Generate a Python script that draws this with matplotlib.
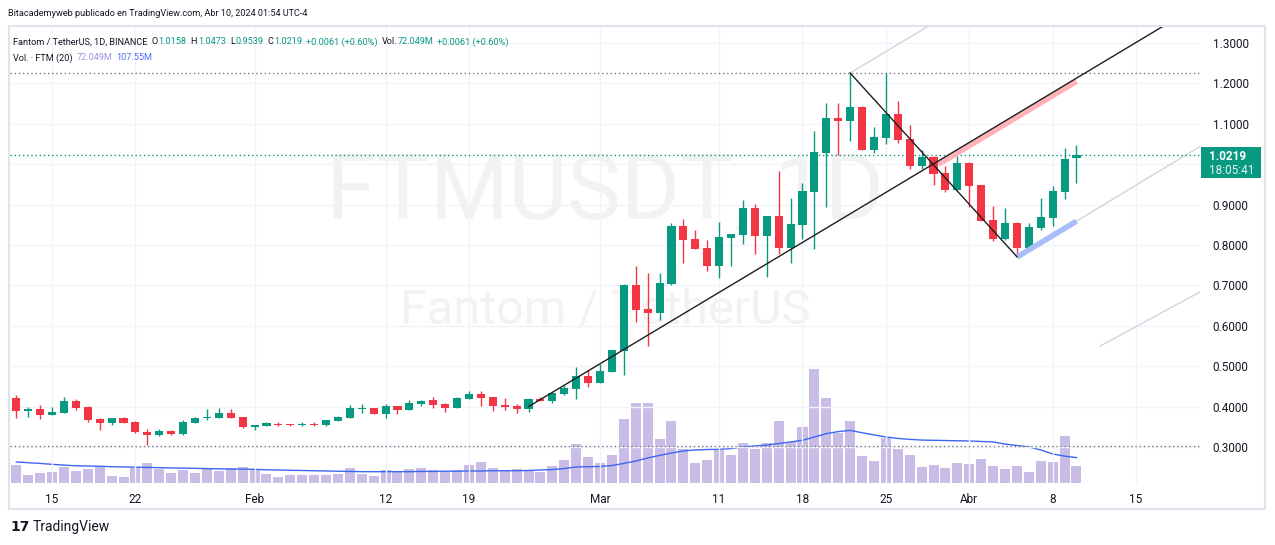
import numpy as np
import pandas as pd
import matplotlib
matplotlib.use("Agg")
import matplotlib.pyplot as plt
import matplotlib.dates as mdates
from matplotlib.patches import Rectangle
from matplotlib import font_manager

# a narrow face is closer to the snapshot's UI font, fall back to Roboto
_names = {f.name for f in font_manager.fontManager.ttflist}
if 'Liberation Sans Narrow' in _names:
    UI_FONT, UI_SIZE = ['Liberation Sans Narrow', 'DejaVu Sans'], 7.8
else:
    UI_FONT, UI_SIZE = ['Roboto', 'DejaVu Sans'], 6.6
plt.rcParams['font.family'] = ['Roboto', 'DejaVu Sans']

# daily candles FTM/USDT, 12 Jan -> 10 Apr 2024
dates = pd.date_range("2024-01-12", "2024-04-10", freq="D")

opens = [0.421, 0.390, 0.394, 0.380, 0.385, 0.414, 0.399, 0.370, 0.360, 0.372,
         0.362, 0.337, 0.330, 0.339, 0.333, 0.360, 0.372, 0.372, 0.384, 0.374,
         0.350, 0.353, 0.358, 0.357, 0.354, 0.357, 0.354, 0.365, 0.372, 0.394,
         0.396, 0.383, 0.401, 0.392, 0.406, 0.416, 0.406, 0.397, 0.419, 0.431,
         0.424, 0.404, 0.401, 0.395, 0.419, 0.415, 0.431, 0.444, 0.476, 0.459,
         0.486, 0.538, 0.701, 0.642, 0.631, 0.703, 0.847, 0.815, 0.793, 0.748,
         0.818, 0.825, 0.892, 0.822, 0.872, 0.793, 0.850, 0.932, 1.028, 1.114,
         1.108, 1.142, 1.036, 1.066, 1.124, 1.062, 0.996, 1.019, 0.978, 0.937,
         1.004, 0.948, 0.863, 0.816, 0.855, 0.793, 0.843, 0.868, 0.932, 1.0158]
highs = [0.429, 0.399, 0.404, 0.399, 0.424, 0.419, 0.402, 0.373, 0.373, 0.375,
         0.364, 0.345, 0.345, 0.342, 0.368, 0.374, 0.394, 0.397, 0.394, 0.375,
         0.355, 0.361, 0.363, 0.358, 0.363, 0.361, 0.368, 0.378, 0.404, 0.406,
         0.397, 0.406, 0.402, 0.416, 0.416, 0.424, 0.408, 0.424, 0.439, 0.439,
         0.425, 0.421, 0.406, 0.421, 0.424, 0.436, 0.453, 0.498, 0.491, 0.505,
         0.541, 0.704, 0.748, 0.731, 0.731, 0.854, 0.864, 0.837, 0.812, 0.857,
         0.828, 0.911, 0.901, 0.873, 0.984, 0.916, 0.953, 1.083, 1.151, 1.151,
         1.2257, 1.145, 1.092, 1.2257, 1.156, 1.098, 1.036, 1.020, 0.996, 1.021,
         1.005, 0.949, 0.897, 0.892, 0.856, 0.855, 0.917, 0.947, 1.041, 1.0473]
lows = [0.373, 0.375, 0.370, 0.379, 0.384, 0.392, 0.363, 0.343, 0.355, 0.359,
        0.334, 0.305, 0.328, 0.331, 0.331, 0.359, 0.368, 0.371, 0.372, 0.348,
        0.343, 0.352, 0.353, 0.352, 0.352, 0.352, 0.353, 0.364, 0.371, 0.385,
        0.382, 0.373, 0.383, 0.391, 0.401, 0.396, 0.387, 0.396, 0.418, 0.401,
        0.390, 0.392, 0.385, 0.387, 0.414, 0.410, 0.429, 0.420, 0.449, 0.458,
        0.485, 0.478, 0.610, 0.551, 0.615, 0.701, 0.756, 0.790, 0.736, 0.719,
        0.748, 0.802, 0.778, 0.722, 0.778, 0.756, 0.815, 0.791, 0.895, 1.024,
        1.058, 1.036, 1.028, 1.051, 1.053, 0.988, 0.988, 0.949, 0.932, 0.936,
        0.895, 0.859, 0.811, 0.812, 0.771, 0.792, 0.838, 0.848, 0.915, 0.9539]
closes = [0.390, 0.394, 0.380, 0.387, 0.414, 0.397, 0.368, 0.360, 0.372, 0.360,
          0.336, 0.330, 0.339, 0.333, 0.362, 0.372, 0.374, 0.384, 0.373, 0.350,
          0.354, 0.359, 0.354, 0.354, 0.357, 0.354, 0.367, 0.374, 0.396, 0.396,
          0.383, 0.401, 0.392, 0.409, 0.414, 0.404, 0.397, 0.421, 0.431, 0.421,
          0.401, 0.399, 0.395, 0.419, 0.414, 0.434, 0.446, 0.476, 0.459, 0.488,
          0.540, 0.701, 0.640, 0.631, 0.706, 0.847, 0.812, 0.790, 0.748, 0.820,
          0.827, 0.892, 0.822, 0.872, 0.793, 0.852, 0.934, 1.030, 1.114, 1.108,
          1.142, 1.036, 1.067, 1.124, 1.061, 0.996, 1.019, 0.977, 0.937, 1.004,
          0.947, 0.860, 0.816, 0.855, 0.793, 0.845, 0.870, 0.934, 1.014, 1.0219]

# volume in millions and its 20-day average
volume = [76, 34, 42, 46, 68, 51, 59, 66, 30, 25,
          62, 85, 59, 42, 56, 42, 62, 51, 64, 68,
          54, 38, 25, 34, 34, 34, 34, 38, 64, 38,
          30, 55, 47, 59, 64, 55, 47, 55, 76, 89,
          64, 51, 59, 51, 47, 72, 97, 165, 110, 85,
          119, 270, 339, 339, 187, 263, 144, 85, 97, 144,
          119, 170, 144, 170, 263, 175, 237, 483, 360, 212,
          263, 114, 93, 191, 144, 119, 68, 76, 64, 85,
          81, 102, 72, 59, 72, 47, 93, 89, 199, 72.049]
vol_ma = [89, 86, 83, 79, 76, 73, 72, 71, 69, 68,
          67, 66, 65, 64, 63, 62, 61, 60, 59, 59,
          58, 56, 55, 54, 53, 52, 51, 50, 49, 48,
          48, 48, 48, 48, 49, 49, 50, 50, 51, 51,
          52, 52, 52, 53, 55, 57, 61, 68, 69, 70,
          74, 83, 93, 106, 117, 127, 136, 140, 142, 143,
          146, 153, 157, 161, 167, 174, 181, 195, 209, 218,
          223, 213, 204, 195, 189, 185, 182, 181, 180, 179,
          178, 176, 174, 165, 159, 153, 140, 123, 114, 107.55]

tick_dates = ["2024-01-15", "2024-01-22", "2024-02-01", "2024-02-12", "2024-02-19",
              "2024-03-01", "2024-03-11", "2024-03-18", "2024-03-25", "2024-04-01",
              "2024-04-08", "2024-04-15"]
tick_labels = ["15", "22", "Feb", "12", "19", "Mar", "11", "18", "25", "Abr", "8", "15"]
price_ticks = [0.3, 0.4, 0.5, 0.6, 0.7, 0.8, 0.9, 1.0, 1.1, 1.2, 1.3]

# user drawings (date, price)
up_line = (["2024-02-24 00:00", "2024-04-22 00:00"], [0.400, 1.425])
down_line = (["2024-03-22 00:00", "2024-04-05 00:00"], [1.2257, 0.771])
pink_line = (["2024-03-29 10:00", "2024-04-10 00:00"], [1.000, 1.205])
blue_line = (["2024-04-05 00:00", "2024-04-10 00:00"], [0.770, 0.859])
grey_lines = [(["2024-04-10 00:00", "2024-04-22 00:00"], [0.859, 1.073]),
              (["2024-03-22 00:00", "2024-03-30 00:00"], [1.2257, 1.367]),
              (["2024-04-12 00:00", "2024-04-22 00:00"], [0.550, 0.710])]
hlines_grey = [1.2257, 0.3025]
last_price = 1.0219

GREEN = '#089981'
RED = '#f23645'
DARK = '#131722'
W, H = 1275, 545

fig = plt.figure(figsize=(W / 100, H / 100), dpi=100)
fig.patch.set_facecolor('white')
pos = [10 / W, (H - 483) / H, 1190 / W, 456 / H]

ax_vol = fig.add_axes(pos)
ax = fig.add_axes(pos, sharex=ax_vol)
ax.set_zorder(ax_vol.get_zorder() + 1)
ax.patch.set_visible(False)

x = mdates.date2num(dates)
o = np.array(opens); h = np.array(highs); l = np.array(lows); c = np.array(closes)
up = c >= o
cols = np.where(up, GREEN, RED)

# volume pane
ax_vol.bar(x, volume, width=0.84, color='#c9bde7', zorder=2)
ax_vol.plot(x, vol_ma, color='#3d66f2', lw=1, zorder=3)
ax_vol.set_ylim(0, 1933)
ax_vol.axis('off')

# candles
ax.vlines(x, l, h, color=cols, lw=1, zorder=4)
body_low = np.minimum(o, c)
body_h = np.maximum(np.abs(c - o), 0.002)
ax.bar(x, body_h, bottom=body_low, width=0.68, color=cols, zorder=5)


def d2n(ds):
    return mdates.date2num(pd.to_datetime(ds, format="%Y-%m-%d %H:%M"))


# drawings
for xs, ys in grey_lines:
    ax.plot(d2n(xs), ys, color='#d1d4dc', lw=1, zorder=3)
ax.plot(d2n(pink_line[0]), pink_line[1], color='#ffb2b8', lw=4, solid_capstyle='butt', zorder=6)
ax.plot(d2n(blue_line[0]), blue_line[1], color='#a9bef9', lw=4, solid_capstyle='butt', zorder=6)
ax.plot(d2n(up_line[0]), up_line[1], color='#1e1e1e', lw=1, zorder=7)
ax.plot(d2n(down_line[0]), down_line[1], color='#1e1e1e', lw=1, zorder=7)
for yv in hlines_grey:
    ax.axhline(yv, color='#787b86', lw=1, ls=(0, (1, 2)), zorder=3)
ax.axhline(last_price, color=GREEN, lw=1, ls=(0, (1, 2)), zorder=3)

# watermark
ax.text(0.5, 0.634, "FTMUSDT, 1D", transform=ax.transAxes, ha='center', va='center',
        fontsize=65, color='#f2f2f3', zorder=0)
ax.text(0.5, 0.379, "Fantom / TetherUS", transform=ax.transAxes, ha='center', va='center',
        fontsize=35, color='#f2f2f3', zorder=0)

x0 = mdates.date2num(dates[0])
ax.set_xlim(x0 - 0.53, x0 + 99.37)
ax.set_ylim(0.211, 1.3396)
ax.set_xticks(mdates.date2num(pd.to_datetime(tick_dates)))
ax.set_xticklabels(tick_labels)
ax.set_yticks(price_ticks)
# the 1.0000 label sits under the last-price tag, so it is not shown
ax.set_yticklabels(["" if p == 1.0 else f"{p:.4f}" for p in price_ticks])
ax.yaxis.tick_right()
ax.tick_params(axis='both', length=0, labelsize=8.5, colors=DARK)
ax.tick_params(axis='y', pad=9)
ax.tick_params(axis='x', pad=7)
ax.grid(True, color='#f0f3fa', lw=1, zorder=0)
for s in ax.spines.values():
    s.set_visible(False)

# frame
fig.add_artist(Rectangle((9 / W, 1 - 509 / H), 1256 / W, 483 / H, transform=fig.transFigure,
                         fill=False, ec='#e0e3eb', lw=1.5))

# header and legend
fig.text(8 / W, 1 - 14 / H, "Bitacademyweb publicado en TradingView.com, Abr 10, 2024 01:54 UTC-4",
         fontsize=UI_SIZE, color=DARK, va='center', family=UI_FONT)

fig.canvas.draw()
rend = fig.canvas.get_renderer()


def chain(parts, x0, y0, size):
    xx = x0
    for s, col, gap in parts:
        t = fig.text(xx / W, 1 - y0 / H, s, color=col, fontsize=size, va='center', family=UI_FONT)
        xx += t.get_window_extent(renderer=rend).width + gap


chain([("Fantom / TetherUS, 1D, BINANCE", DARK, 4), ("O", DARK, 1), ("1.0158", GREEN, 4),
       ("H", DARK, 1), ("1.0473", GREEN, 4), ("L", DARK, 1), ("0.9539", GREEN, 4),
       ("C", DARK, 1), ("1.0219", GREEN, 3), ("+0.0061 (+0.60%)", GREEN, 4),
       ("Vol.", DARK, 1), ("72.049M", GREEN, 3), ("+0.0061 (+0.60%)", GREEN, 0)], 13, 42, UI_SIZE)
chain([("Vol. · FTM (20)", DARK, 4), ("72.049M", '#a58ee0', 4), ("107.55M", '#4a6cf7', 0)],
      13, 58, UI_SIZE)

# last price tag
fig.add_artist(Rectangle((1201 / W, 1 - 178 / H), 60 / W, 31 / H, transform=fig.transFigure,
                         fc=GREEN, ec='none', zorder=10))
fig.text(1209 / W, 1 - 156 / H, "1.0219", color='white', fontsize=8.5, fontweight='bold',
         va='center', zorder=11)
fig.text(1209 / W, 1 - 170 / H, "18:05:41", color='#e6f5f2', fontsize=8.5, va='center', zorder=11)

# footer logo
fig.text(10 / W, 1 - 527 / H, "17", color=DARK, fontsize=10, fontweight='bold', va='center',
         family='DejaVu Sans')
fig.text(33 / W, 1 - 527 / H, "TradingView", color=DARK, fontsize=10, va='center')

fig.savefig("out.png", dpi=100, facecolor='white')
